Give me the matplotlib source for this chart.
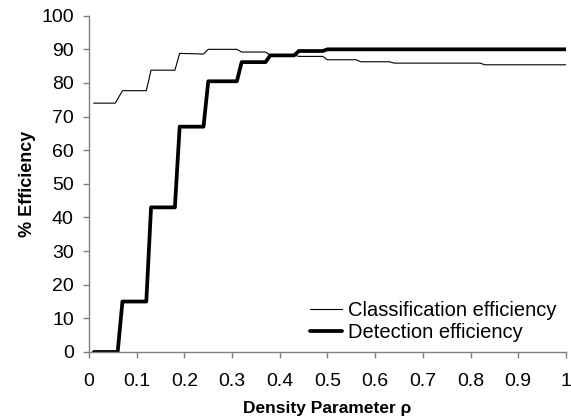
import matplotlib
matplotlib.use('Agg')
import matplotlib.pyplot as plt

plt.rcParams['font.family'] = ['Liberation Sans', 'DejaVu Sans']

# corner points (density parameter vs % efficiency)
clf_x = [0.01, 0.055, 0.07, 0.12, 0.13, 0.18, 0.19, 0.24, 0.25, 0.31, 0.32, 0.37,
         0.38, 0.43, 0.44, 0.49, 0.50, 0.56, 0.57, 0.63, 0.64, 0.82, 0.83, 1.00]
clf_y = [74, 74, 77.7, 77.7, 83.8, 83.8, 88.8, 88.6, 90, 90, 89.2, 89.2,
         88.3, 88.3, 87.9, 87.9, 86.9, 86.9, 86.3, 86.3, 85.9, 85.9, 85.4, 85.4]

det_x = [0.01, 0.06, 0.07, 0.12, 0.13, 0.18, 0.19, 0.24, 0.25, 0.31, 0.32, 0.37,
         0.38, 0.43, 0.44, 0.49, 0.50, 1.00]
det_y = [0, 0, 15, 15, 43, 43, 67, 67, 80.5, 80.5, 86.2, 86.2,
         88.2, 88.2, 89.5, 89.5, 90, 90]

xticks = [0, 0.1, 0.2, 0.3, 0.4, 0.5, 0.6, 0.7, 0.8, 0.9, 1]
xlabels = ['0', '0.1', '0.2', '0.3', '0.4', '0.5', '0.6', '0.7', '0.8', '0.9', '1']
yticks = list(range(0, 101, 10))

fig = plt.figure(figsize=(5.71, 4.19), dpi=100)
ax = fig.add_axes([0.156, 0.160, 0.835, 0.8025])

ax.plot(clf_x, clf_y, color='black', lw=0.8, label='Classification efficiency')
ax.plot(det_x, det_y, color='black', lw=2.7, label='Detection efficiency',
        solid_joinstyle='round', solid_capstyle='round')

ax.set_xlim(0, 1)
ax.set_ylim(0, 100)
ax.set_xticks(xticks)
ax.set_xticklabels(xlabels)
ax.set_yticks(yticks)

for s in ['top', 'right']:
    ax.spines[s].set_visible(False)
for s in ['left', 'bottom']:
    ax.spines[s].set_color('#808080')
    ax.spines[s].set_linewidth(1.0)
ax.tick_params(direction='out', length=4, width=1.0, color='#808080',
               labelsize=14, labelcolor='black')
ax.tick_params(axis='x', pad=11)
ax.tick_params(axis='y', pad=7)

ax.set_xlabel('Density Parameter ρ', fontsize=12.5, fontweight='bold', labelpad=8)
ax.set_ylabel('% Efficiency', fontsize=13, fontweight='bold', labelpad=4)

ax.legend(loc='lower right', bbox_to_anchor=(0.981, 0.03), frameon=False,
          fontsize=14.5, handlelength=1.6, handletextpad=0.3, labelspacing=0.15,
          borderpad=0, borderaxespad=0)

fig.savefig('out.png', dpi=100)
